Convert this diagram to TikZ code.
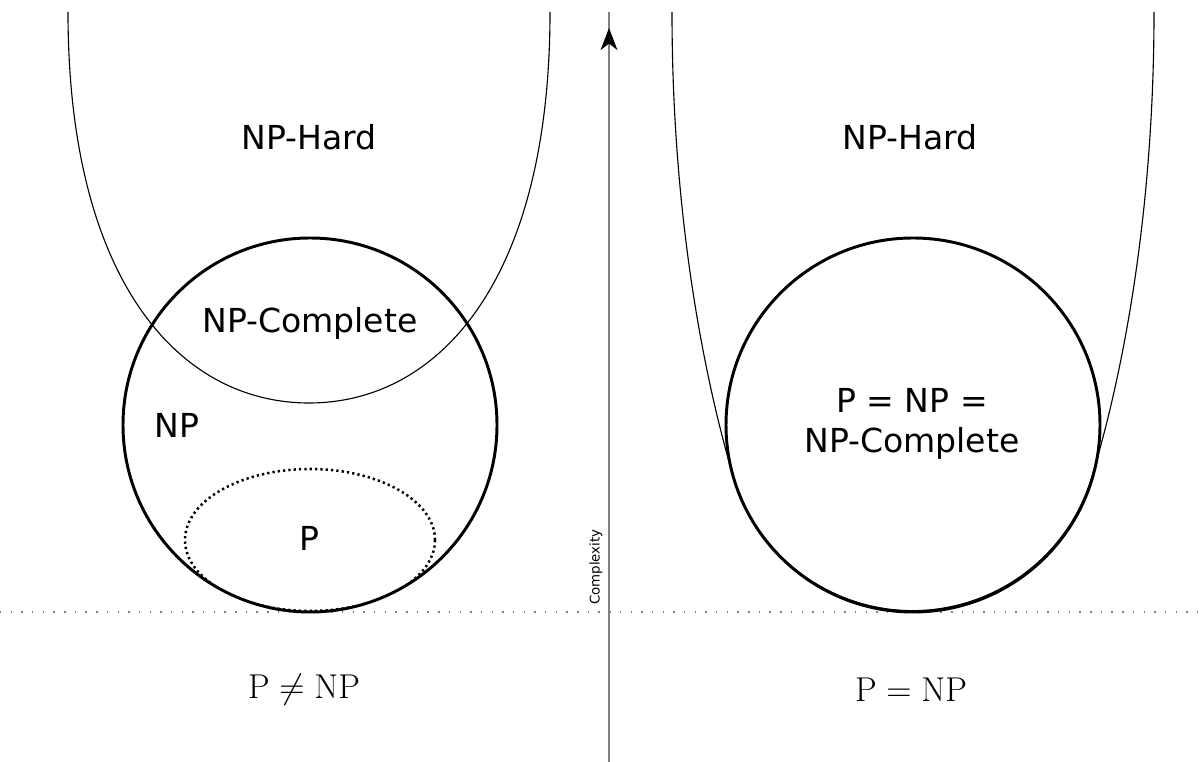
\documentclass[tikz,border=0pt]{standalone}
\usepackage{amsmath}
\usepackage{fontspec}
\setsansfont{DejaVu Sans}
\usepackage{tikz}
\usetikzlibrary{arrows.meta}

\begin{document}
\begin{tikzpicture}[
    x=0.025cm, y=0.025cm,
    classline/.style = {line width=2.1pt},
    hardline/.style  = {line width=0.8pt},
    pline/.style     = {line width=1.8pt, dash pattern=on 1.6pt off 2.2pt},
    floorline/.style = {black!50, line width=1.4pt, dash pattern=on 1pt off 6.6pt},
    axis/.style      = {black!50, line width=1.4pt},
    classname/.style = {font=\sffamily\fontsize{23.5}{28.5}\selectfont, inner sep=0pt, align=center},
    verdict/.style   = {font=\fontsize{24.5}{29}\selectfont, inner sep=0pt}
]
\useasboundingbox (0,0) rectangle (1203,762);
\coordinate (floorW) at (0,150);
\coordinate (floorE) at (1203,150);
\draw[floorline] (floorW) -- (floorE);
\coordinate (base) at (609,0);
\coordinate (top)  at (609,750);
\coordinate (tip)  at (609,734);
\draw[axis] (base) -- (top);
\draw[axis, -{Stealth[black, length=5.5mm, width=4.2mm, inset=1.6mm]}] (609,690) -- (tip);
\node[rotate=90, anchor=south, inner sep=1pt, font=\sffamily\fontsize{9.5}{11}\selectfont] (cx) at (604,195) {Complexity};
\begin{scope}
\clip (310,337) circle[radius=187];
\draw[pline] (310,222) ellipse[x radius=125, y radius=71];
\end{scope}
\draw[hardline] (68,750) .. controls (68,480) and (180,359) .. (309,359)
                          .. controls (438,359) and (550,480) .. (550,750);
\draw[hardline] (672,750) .. controls (672,560) and (700,400) .. (732,290)
                arc[start angle=195, end angle=345, radius=187]
                .. controls (1126,400) and (1154,560) .. (1154,750);
\foreach \cx in {310, 913}
  \draw[classline] (\cx,337) circle[radius=187];
\node[classname] (hardL)     at (309,625) {NP-Hard};
\node[classname] (completeL) at (310,439) {NP-Complete};
\node[classname] (npL)       at (177,337) {NP};
\node[classname] (pL)        at (309,224) {P};
\node[classname] (hardR)     at (910,625) {NP-Hard};
\node[classname] (allR)      at (912,338) {P = NP =\\NP-Complete};
\node[verdict] (neq) at (304,72) {$\mathrm{P} \ne \mathrm{NP}$};
\node[verdict] (eq)  at (911,72) {$\mathrm{P} = \mathrm{NP}$};
\end{tikzpicture}
\end{document}
